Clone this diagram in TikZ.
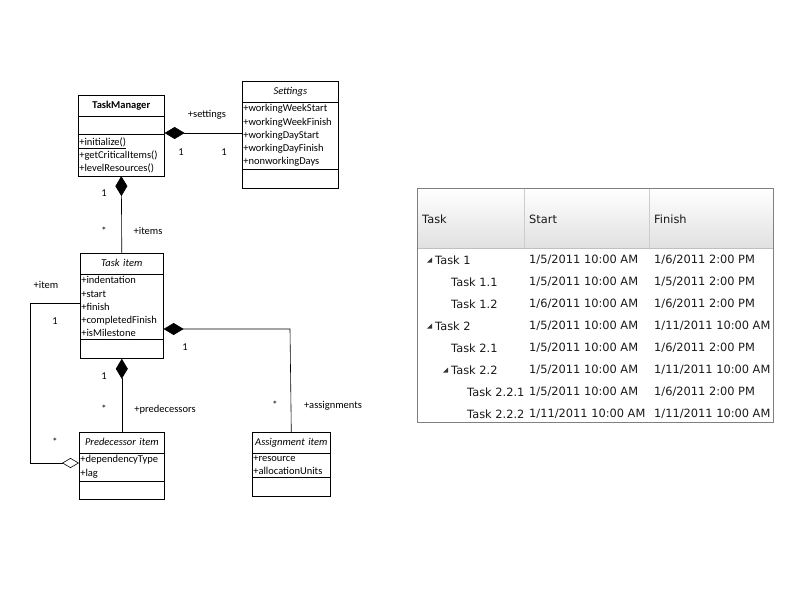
\documentclass[tikz,border=0pt]{standalone}
\usepackage{fontspec}
\setmainfont{Carlito}
\newfontfamily\gridfont{DejaVu Sans}
\usetikzlibrary{arrows.meta, positioning, shapes.multipart}

\newcommand{\ttlstrut}{\rule[-5pt]{0pt}{15pt}}
\tikzset{
  cls/.style={draw, semithick, rectangle split, rectangle split parts=3, anchor=north west,
    font=\fontsize{10.5}{13.2}\selectfont, inner xsep=1pt, inner ysep=2.5pt,
    rectangle split empty part height=11pt, align=left},
  lbl/.style={font=\fontsize{10.5}{12}\selectfont},
  comp/.style={semithick, {Diamond[length=20pt,width=12pt]}-},
  aggr/.style={semithick, {Diamond[open,length=17pt,width=10pt]}-},
  cell/.style={anchor=west, font=\gridfont\fontsize{11.4}{13}\selectfont, text=black!90, inner sep=0pt},
}

\begin{document}
\begin{tikzpicture}[x=1pt, y=-1pt]
  \useasboundingbox (0,0) rectangle (800,600);

  % classes
  \node[cls, text width=84pt] (mgr) at (78,95)
    {\centering\ttlstrut\textbf{TaskManager}\par
     \nodepart{second}\strut
     \nodepart{third}\underline{+initialize()}\\+getCriticalItems()\\+levelResources()};
  \node[cls, text width=94pt] (set) at (242,81)
    {\centering\ttlstrut\textit{Settings}\par
     \nodepart{second}+workingWeekStart\\+workingWeekFinish\\+workingDayStart\\+workingDayFinish\\+nonworkingDays
     \nodepart{third}\strut};
  \node[cls, text width=81pt] (item) at (80,253)
    {\centering\ttlstrut\textit{Task item}\par
     \nodepart{second}+indentation\\+start\\+finish\\+completedFinish\\+isMilestone
     \nodepart{third}\strut};
  \node[cls, text width=83pt] (pred) at (79,432)
    {\centering\ttlstrut\textit{Predecessor item}\par
     \nodepart{second}+dependencyType\\+lag
     \nodepart{third}\strut};
  \node[cls, text width=76pt] (asg) at (252,432)
    {\centering\ttlstrut\textit{Assignment item}\par
     \nodepart{second}+resource\\+allocationUnits
     \nodepart{third}\strut};

  % associations
  \draw[comp] (mgr.east |- 0,133) -- (set.west |- 0,133);
  \draw[comp] (mgr.south) -- (item.north);
  \draw[comp] (item.south) -- (pred.north);
  \coordinate (asgbend) at (290,329);
  \draw[comp] (item.east |- asgbend) -- (asgbend) -- (asg.north);
  \coordinate (itemtop) at (30,303);
  \coordinate (itembot) at (30,463);
  \draw[aggr] (pred.west |- itembot) -- (itembot) -- (itemtop) -- (item.west |- itemtop);

  % labels
  \node[lbl] (l1) at (207,115) {+settings};
  \node[lbl] (l2) at (181,152) {1};
  \node[lbl] (l3) at (224,152) {1};
  \node[lbl] (l4) at (104,193) {1};
  \node[lbl] (l5) at (104,231) {*};
  \node[lbl] (l6) at (148,231) {+items};
  \node[lbl] (l7) at (46,285) {+item};
  \node[lbl] (l8) at (55,321) {1};
  \node[lbl] (l9) at (55,442) {*};
  \node[lbl] (l10) at (104,376) {1};
  \node[lbl] (l11) at (104,409) {*};
  \node[lbl] (l12) at (165,410) {+predecessors};
  \node[lbl] (l13) at (185,347) {1};
  \node[lbl] (l14) at (275,405) {*};
  \node[lbl] (l15) at (333,406) {+assignments};

  % grid
  \shade[top color=white, bottom color=black!12] (418,189) rectangle (773,248);
  \draw[black!50] (417.5,188.5) rectangle (773.5,422.5);
  \draw[black!25] (418,248) -- (773,248);
  \draw[black!20] (524,189) -- (524,248) (649,189) -- (649,248);
  \node[cell] (hTask) at (422,219) {Task};
  \node[cell] (hStart) at (529,219) {Start};
  \node[cell] (hFinish) at (654,219) {Finish};
  \foreach \y/\lvl/\tri/\t/\s/\f [count=\i] in {
      260/0/1/Task 1/1\slash5\slash2011 10:00 AM/1\slash6\slash2011 2:00 PM,
      282/1/0/Task 1.1/1\slash5\slash2011 10:00 AM/1\slash5\slash2011 2:00 PM,
      304/1/0/Task 1.2/1\slash6\slash2011 10:00 AM/1\slash6\slash2011 2:00 PM,
      326/0/1/Task 2/1\slash5\slash2011 10:00 AM/1\slash11\slash2011 10:00 AM,
      348/1/0/Task 2.1/1\slash5\slash2011 10:00 AM/1\slash6\slash2011 2:00 PM,
      370/1/1/Task 2.2/1\slash5\slash2011 10:00 AM/1\slash11\slash2011 10:00 AM,
      392/2/0/Task 2.2.1/1\slash5\slash2011 10:00 AM/1\slash6\slash2011 2:00 PM,
      414/2/0/Task 2.2.2/1\slash11\slash2011 10:00 AM/1\slash11\slash2011 10:00 AM}{
    \node[cell] (t\i) at (435+16*\lvl,\y) {\t};
    \node[cell] (s\i) at (529,\y) {\s};
    \node[cell] (f\i) at (654,\y) {\f};
    \ifnum\tri=1
      \fill[black!80] ([xshift=-3pt]t\i.west) ++(0,2.5) -- ++(-5,0) -- ++(5,-5) -- cycle;
    \fi
  }
\end{tikzpicture}
\end{document}
